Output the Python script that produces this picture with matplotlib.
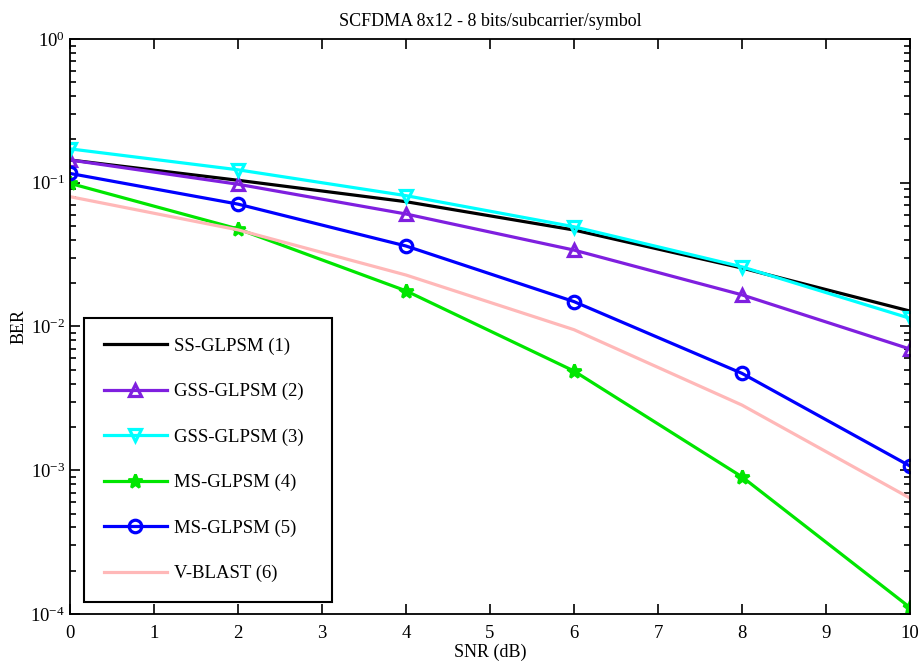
import numpy as np
import matplotlib
matplotlib.use('Agg')
import matplotlib.pyplot as plt
from matplotlib.ticker import LogLocator, NullFormatter

plt.rcParams['font.family'] = ['Liberation Serif', 'DejaVu Serif']
plt.rcParams['mathtext.fontset'] = 'custom'
plt.rcParams['mathtext.rm'] = 'Liberation Serif'
plt.rcParams['mathtext.default'] = 'regular'
plt.rcParams['axes.unicode_minus'] = False

# data (BER vs SNR)
snr = [0, 2, 4, 6, 8, 10]
ss_glpsm_1 = [0.144, 0.104, 0.0738, 0.0469, 0.0255, 0.0128]
gss_glpsm_2 = [0.144, 0.0976, 0.0606, 0.034, 0.0166, 0.00697]
gss_glpsm_3 = [0.172, 0.123, 0.0813, 0.0494, 0.026, 0.0114]
ms_glpsm_4 = [0.099, 0.0477, 0.0177, 0.0049, 0.0009, 0.000111]
ms_glpsm_5 = [0.116, 0.071, 0.0363, 0.0149, 0.00472, 0.00107]
vblast_6 = [0.080, 0.047, 0.0228, 0.0095, 0.00284, 0.00064]

labels = ['SS-GLPSM (1)', 'GSS-GLPSM (2)', 'GSS-GLPSM (3)',
          'MS-GLPSM (4)', 'MS-GLPSM (5)', 'V-BLAST (6)']

fig = plt.figure(figsize=(9.21, 6.65), dpi=100)
ax = fig.add_axes([0.076, 0.0767, 0.912, 0.8647])

lw = 2.3
ax.plot(snr, ss_glpsm_1, '-', color='black', lw=lw, label=labels[0])
ax.plot(snr, gss_glpsm_2, '-', color='#7F1FDF', lw=lw, marker='^', ms=9,
        mfc='none', mew=2.3, label=labels[1])
ax.plot(snr, gss_glpsm_3, '-', color='#00FFFF', lw=lw, marker='v', ms=9,
        mfc='none', mew=2.3, label=labels[2])
ax.plot(snr, ms_glpsm_4, '-', color='#00E600', lw=lw, marker='*', ms=10,
        mew=2.0, label=labels[3])
ax.plot(snr, ms_glpsm_5, '-', color='#0000FF', lw=lw, marker='o', ms=9,
        mfc='none', mew=2.3, label=labels[4])
ax.plot(snr, vblast_6, '-', color='#FFB8B8', lw=lw, label=labels[5])

ax.set_yscale('log')
ax.set_xlim(0, 10)
ax.set_ylim(1e-4, 1)
ax.set_xticks(range(0, 11))
ax.yaxis.set_major_locator(LogLocator(base=10, numticks=10))
ax.yaxis.set_minor_locator(LogLocator(base=10, subs=np.arange(2, 10), numticks=10))
ax.yaxis.set_minor_formatter(NullFormatter())
ax.tick_params(which='both', direction='in', top=True, right=True,
               labelsize=13.5, width=1.2)
ax.tick_params(which='major', length=7)
ax.tick_params(which='minor', length=4)
ax.tick_params(axis='x', pad=8)
for s in ax.spines.values():
    s.set_linewidth(1.3)

ax.set_title('SCFDMA 8x12 - 8 bits/subcarrier/symbol', fontsize=13, pad=9)
ax.set_xlabel('SNR (dB)', fontsize=13, labelpad=1)
ax.set_ylabel('BER', fontsize=13, labelpad=2)

leg = ax.legend(loc='lower left', bbox_to_anchor=(0.0167, 0.021, 0.295, 0.4),
                mode='expand', fontsize=13.5,
                numpoints=1, handlelength=3.35, labelspacing=1.5,
                borderpad=1.05, handletextpad=0.4, fancybox=False,
                framealpha=1, borderaxespad=0.0)
leg.get_frame().set_edgecolor('black')
leg.get_frame().set_linewidth(1.5)

fig.savefig('out.png', dpi=100)
